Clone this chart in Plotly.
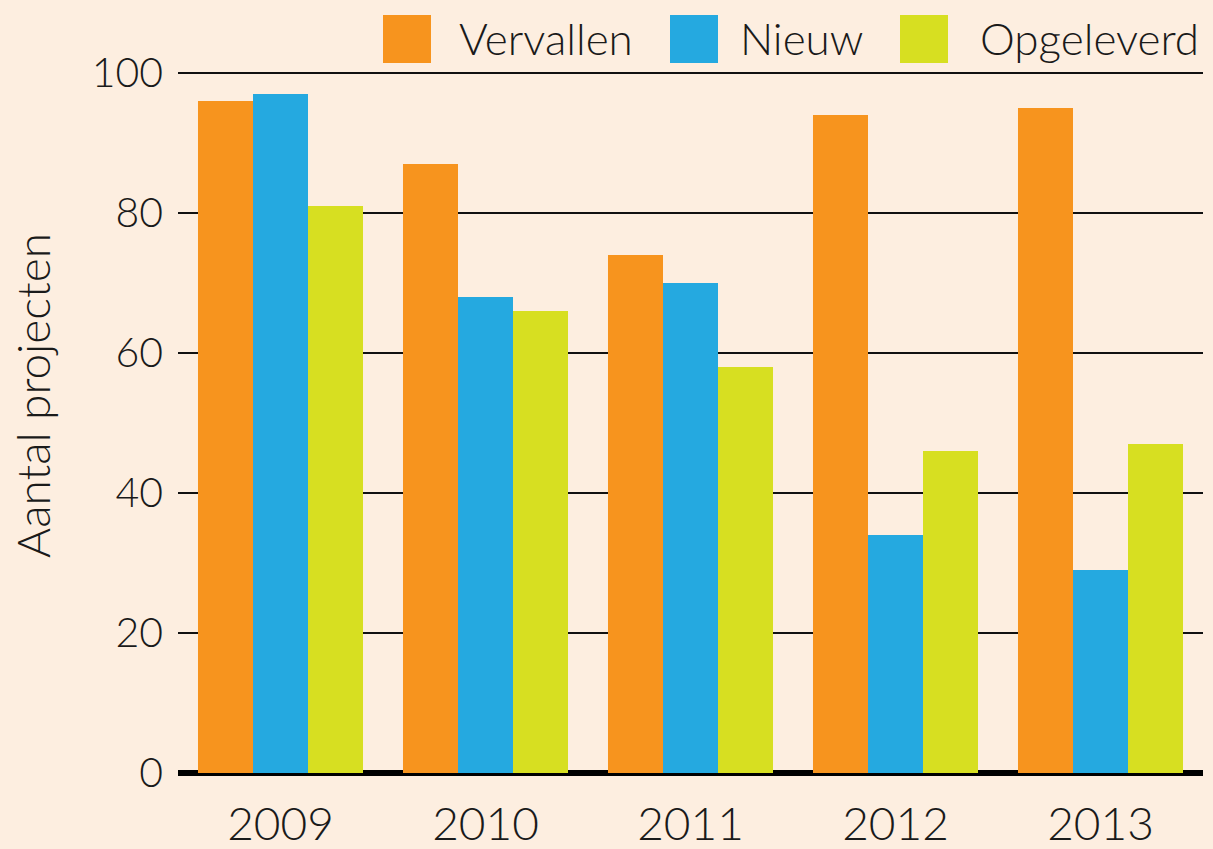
import plotly.graph_objects as go

years = ["2009", "2010", "2011", "2012", "2013"]
series_names = ["Vervallen", "Nieuw", "Opgeleverd"]
vervallen = [96, 87, 74, 94, 95]
nieuw = [97, 68, 70, 34, 29]
opgeleverd = [81, 66, 58, 46, 47]
y_ticks = [0, 20, 40, 60, 80, 100]

colors = ["#F7941E", "#25A9E0", "#D7DF21"]
bg = "#FDEEE0"
FONT = "Lato"
TXT = "#1a1a1a"

W, H = 1213, 849
L, R, T, B = 178, 10, 66, 76
pw, ph = W - L - R, H - T - B

fig = go.Figure()
for name, vals, c in zip(series_names, [vervallen, nieuw, opgeleverd], colors):
    fig.add_trace(go.Bar(x=years, y=vals, name=name, marker=dict(color=c, line=dict(width=0))))

def px_x(p):
    return (p - L) / pw

def px_y(p):
    return (H - B - p) / ph

# custom legend (large square swatches)
sq_left = [383, 670, 900]
txt_left = [457, 738, 978]
shapes = []
annotations = []
for name, c, sx, tx in zip(series_names, colors, sq_left, txt_left):
    shapes.append(dict(type="rect", xref="paper", yref="paper",
                       x0=px_x(sx), x1=px_x(sx + 48), y0=px_y(63), y1=px_y(15),
                       fillcolor=c, line=dict(width=0), layer="above"))
    annotations.append(dict(text=name, xref="paper", yref="paper",
                            x=px_x(tx), y=px_y(38), xanchor="left", yanchor="middle",
                            showarrow=False, font=dict(family=FONT, size=44, color=TXT, weight=300)))

annotations.append(dict(text="Aantal projecten", xref="paper", yref="paper",
                        x=px_x(32), y=px_y(396), xanchor="center", yanchor="middle",
                        textangle=-90, showarrow=False,
                        font=dict(family=FONT, size=46, color=TXT, weight=300)))

fig.update_layout(
    width=W, height=H,
    margin=dict(l=L, r=R, t=T, b=B, pad=0),
    paper_bgcolor=bg, plot_bgcolor=bg,
    barmode="group", bargap=0.195, bargroupgap=0,
    showlegend=False,
    shapes=shapes, annotations=annotations,
    xaxis=dict(showgrid=False, showline=False, ticks="", automargin=False,
               tickfont=dict(family=FONT, size=46, color=TXT, weight=300),
               ticklabelstandoff=20),
    yaxis=dict(range=[0, 101], tickvals=y_ticks, showgrid=True, automargin=False,
               gridcolor="#111111", gridwidth=1.5,
               zeroline=True, zerolinecolor="#000000", zerolinewidth=6,
               showline=False, ticks="",
               tickfont=dict(family=FONT, size=41, color=TXT, weight=300),
               ticklabelstandoff=14),
)

fig.write_html("out.html", config={"displayModeBar": False},
               post_script="document.body.style.margin='0';document.body.style.background='" + bg + "';")
